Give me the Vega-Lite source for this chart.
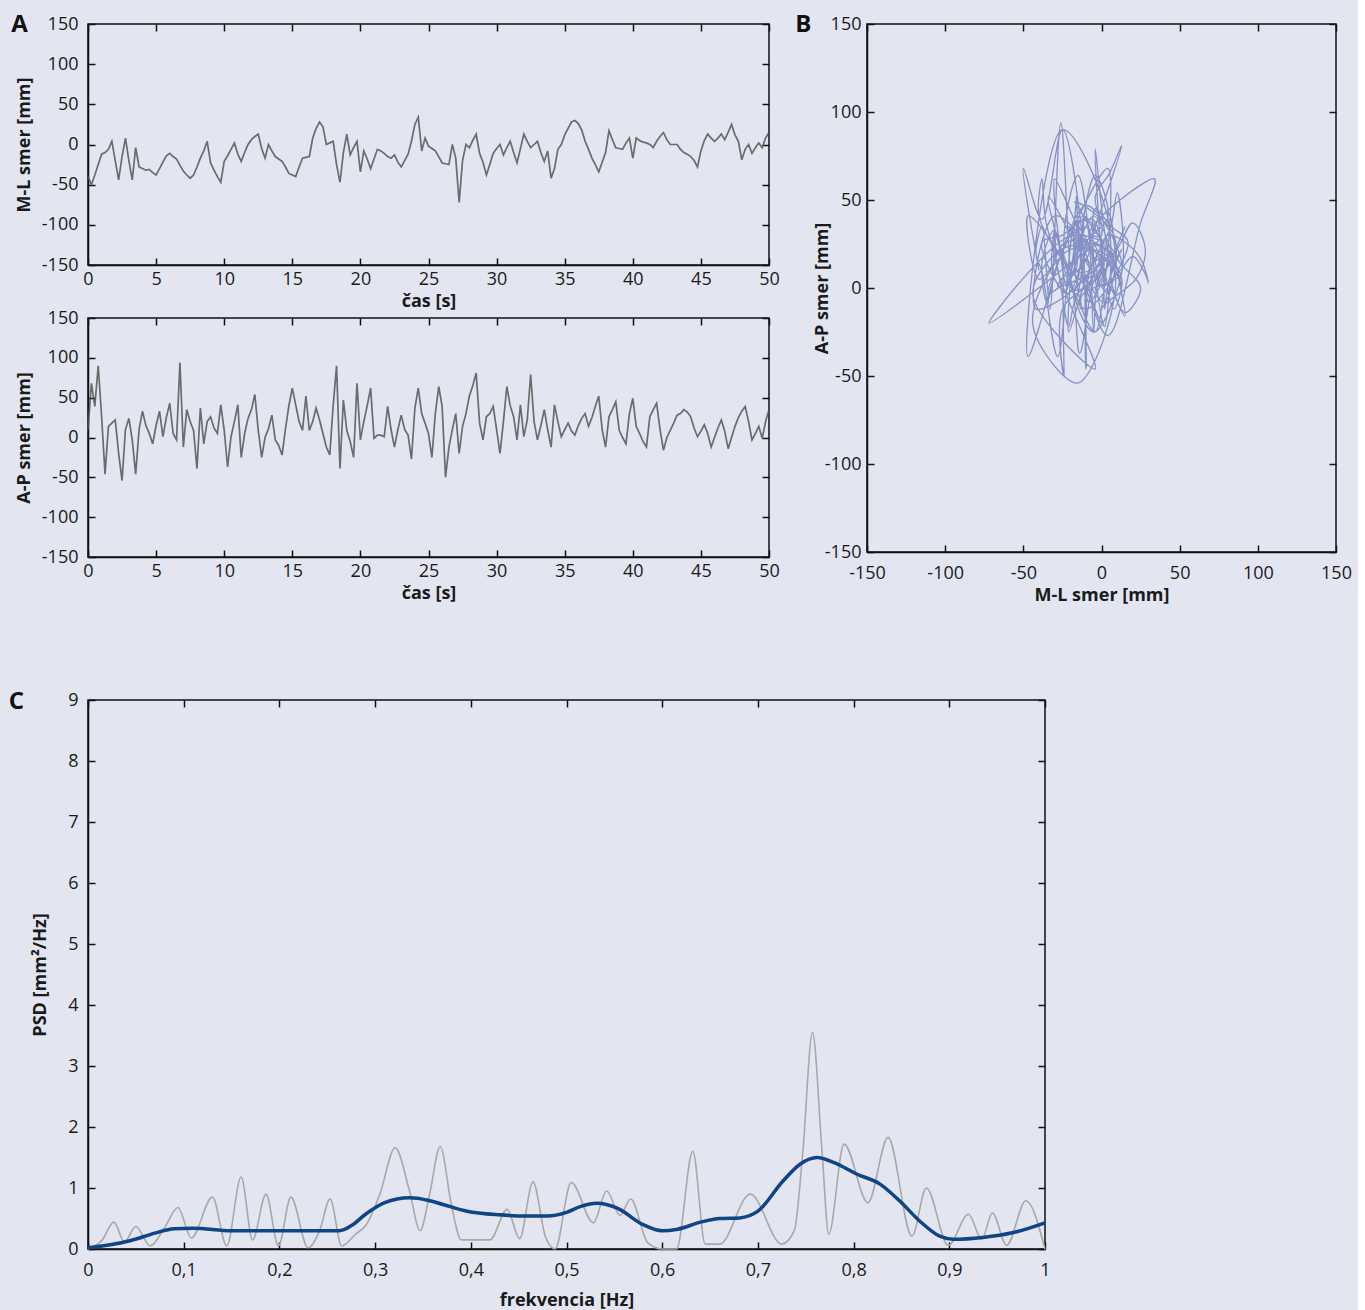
{
  "$schema": "https://vega.github.io/schema/vega-lite/v6.json",
  "background": "#e3e6f1",
  "padding": {"left": 7, "top": 12, "right": 5, "bottom": 0},
  "config": {
    "view": {"stroke": "#111111", "strokeWidth": 1.5},
    "axis": {"labelFont": "Open Sans", "labelFontSize": 18, "labelColor": "#1a1a1a", "titleFont": "Open Sans", "titleFontSize": 18, "titleFontWeight": "bold", "titleColor": "#1a1a1a", "domainColor": "#111111", "domainWidth": 1.5, "tickColor": "#111111", "tickWidth": 1.5, "tickSize": -7, "grid": false, "labelFlush": false, "labelOverlap": false, "labelExpr": "'' + datum.value"},
    "axisX": {"labelPadding": 12},
    "axisY": {"labelPadding": 17},
    "title": {"font": "Open Sans", "fontSize": 24, "fontWeight": "bold", "anchor": "start", "frame": "bounds", "color": "#111111", "baseline": "alphabetic"}
  },
  "datasets": {
    "ts": [
      {"t":0,"ml":-40,"ap":10},{"t":0.25,"ml":-50,"ap":68},{"t":0.5,"ml":-38,"ap":39},{"t":0.75,"ml":-25,"ap":90},{"t":1,"ml":-12,"ap":26},{"t":1.25,"ml":-10,"ap":-46},{"t":1.5,"ml":-6,"ap":14},{"t":1.75,"ml":4,"ap":18},{"t":2,"ml":-20,"ap":22},{"t":2.25,"ml":-44,"ap":-20},{"t":2.5,"ml":-15,"ap":-54},{"t":2.75,"ml":8,"ap":10},{"t":3,"ml":-20,"ap":24},{"t":3.25,"ml":-44,"ap":-3},{"t":3.5,"ml":-4,"ap":-46},{"t":3.75,"ml":-28,"ap":10},{"t":4,"ml":-30,"ap":33},{"t":4.25,"ml":-32,"ap":15},{"t":4.5,"ml":-31,"ap":5},{"t":4.75,"ml":-35,"ap":-8},{"t":5,"ml":-38,"ap":15},{"t":5.25,"ml":-30,"ap":33},{"t":5.5,"ml":-22,"ap":1},{"t":5.75,"ml":-14,"ap":25},{"t":6,"ml":-11,"ap":43},{"t":6.25,"ml":-15,"ap":5},{"t":6.5,"ml":-18,"ap":-3},{"t":6.75,"ml":-26,"ap":94},{"t":7,"ml":-33,"ap":-12},{"t":7.25,"ml":-38,"ap":35},{"t":7.5,"ml":-42,"ap":20},{"t":7.75,"ml":-38,"ap":9},{"t":8,"ml":-28,"ap":-39},{"t":8.25,"ml":-17,"ap":37},{"t":8.5,"ml":-8,"ap":-8},{"t":8.75,"ml":4,"ap":20},{"t":9,"ml":-23,"ap":26},{"t":9.25,"ml":-32,"ap":12},{"t":9.5,"ml":-40,"ap":5},{"t":9.75,"ml":-47,"ap":41},{"t":10,"ml":-21,"ap":9},{"t":10.25,"ml":-14,"ap":-37},{"t":10.5,"ml":-6,"ap":1},{"t":10.75,"ml":2,"ap":20},{"t":11,"ml":-12,"ap":41},{"t":11.25,"ml":-21,"ap":-25},{"t":11.5,"ml":-10,"ap":5},{"t":11.75,"ml":0,"ap":24},{"t":12,"ml":6,"ap":35},{"t":12.25,"ml":10,"ap":54},{"t":12.5,"ml":13,"ap":9},{"t":12.75,"ml":-5,"ap":-25},{"t":13,"ml":-17,"ap":0},{"t":13.25,"ml":0,"ap":11},{"t":13.5,"ml":-8,"ap":28},{"t":13.75,"ml":-15,"ap":-3},{"t":14,"ml":-18,"ap":-10},{"t":14.25,"ml":-21,"ap":-22},{"t":14.5,"ml":-28,"ap":11},{"t":14.75,"ml":-36,"ap":40},{"t":15,"ml":-38,"ap":62},{"t":15.25,"ml":-40,"ap":41},{"t":15.5,"ml":-28,"ap":20},{"t":15.75,"ml":-17,"ap":9},{"t":16,"ml":-16,"ap":52},{"t":16.25,"ml":-15,"ap":9},{"t":16.5,"ml":8,"ap":20},{"t":16.75,"ml":20,"ap":37},{"t":17,"ml":28,"ap":22},{"t":17.25,"ml":22,"ap":5},{"t":17.5,"ml":0,"ap":-12},{"t":17.75,"ml":2,"ap":-22},{"t":18,"ml":4,"ap":40},{"t":18.25,"ml":-25,"ap":90},{"t":18.5,"ml":-47,"ap":-39},{"t":18.75,"ml":-10,"ap":47},{"t":19,"ml":13,"ap":9},{"t":19.25,"ml":-13,"ap":-5},{"t":19.5,"ml":-4,"ap":-25},{"t":19.75,"ml":4,"ap":68},{"t":20,"ml":-34,"ap":-3},{"t":20.25,"ml":-8,"ap":20},{"t":20.5,"ml":-18,"ap":40},{"t":20.75,"ml":-30,"ap":62},{"t":21,"ml":-18,"ap":-1},{"t":21.25,"ml":-6,"ap":3},{"t":21.5,"ml":-8,"ap":3},{"t":21.75,"ml":-11,"ap":1},{"t":22,"ml":-15,"ap":39},{"t":22.25,"ml":-17,"ap":10},{"t":22.5,"ml":-13,"ap":-12},{"t":22.75,"ml":-22,"ap":10},{"t":23,"ml":-28,"ap":28},{"t":23.25,"ml":-20,"ap":10},{"t":23.5,"ml":-12,"ap":3},{"t":23.75,"ml":4,"ap":-27},{"t":24,"ml":25,"ap":37},{"t":24.25,"ml":34,"ap":62},{"t":24.5,"ml":-8,"ap":30},{"t":24.75,"ml":8,"ap":18},{"t":25,"ml":-2,"ap":5},{"t":25.25,"ml":-5,"ap":-25},{"t":25.5,"ml":-8,"ap":30},{"t":25.75,"ml":-15,"ap":64},{"t":26,"ml":-23,"ap":39},{"t":26.25,"ml":-24,"ap":-50},{"t":26.5,"ml":-25,"ap":-12},{"t":26.75,"ml":0,"ap":10},{"t":27,"ml":-17,"ap":30},{"t":27.25,"ml":-72,"ap":-20},{"t":27.5,"ml":-20,"ap":14},{"t":27.75,"ml":0,"ap":30},{"t":28,"ml":-4,"ap":52},{"t":28.25,"ml":5,"ap":65},{"t":28.5,"ml":13,"ap":81},{"t":28.75,"ml":-11,"ap":18},{"t":29,"ml":-22,"ap":-3},{"t":29.25,"ml":-38,"ap":26},{"t":29.5,"ml":-25,"ap":30},{"t":29.75,"ml":-11,"ap":39},{"t":30,"ml":-5,"ap":10},{"t":30.25,"ml":0,"ap":-20},{"t":30.5,"ml":-13,"ap":20},{"t":30.75,"ml":-4,"ap":64},{"t":31,"ml":4,"ap":40},{"t":31.25,"ml":-10,"ap":26},{"t":31.5,"ml":-23,"ap":-3},{"t":31.75,"ml":-5,"ap":41},{"t":32,"ml":13,"ap":1},{"t":32.25,"ml":4,"ap":22},{"t":32.5,"ml":-4,"ap":79},{"t":32.75,"ml":0,"ap":20},{"t":33,"ml":4,"ap":-3},{"t":33.25,"ml":-10,"ap":15},{"t":33.5,"ml":-21,"ap":35},{"t":33.75,"ml":-8,"ap":10},{"t":34,"ml":-42,"ap":-12},{"t":34.25,"ml":-30,"ap":41},{"t":34.5,"ml":-6,"ap":20},{"t":34.75,"ml":0,"ap":1},{"t":35,"ml":12,"ap":10},{"t":35.25,"ml":20,"ap":18},{"t":35.5,"ml":28,"ap":8},{"t":35.75,"ml":30,"ap":3},{"t":36,"ml":26,"ap":15},{"t":36.25,"ml":18,"ap":24},{"t":36.5,"ml":4,"ap":30},{"t":36.75,"ml":-6,"ap":14},{"t":37,"ml":-17,"ap":25},{"t":37.25,"ml":-25,"ap":39},{"t":37.5,"ml":-34,"ap":52},{"t":37.75,"ml":-22,"ap":10},{"t":38,"ml":-10,"ap":-12},{"t":38.25,"ml":17,"ap":26},{"t":38.5,"ml":6,"ap":35},{"t":38.75,"ml":-4,"ap":45},{"t":39,"ml":-5,"ap":9},{"t":39.25,"ml":-6,"ap":0},{"t":39.5,"ml":2,"ap":-8},{"t":39.75,"ml":8,"ap":30},{"t":40,"ml":-17,"ap":49},{"t":40.25,"ml":8,"ap":14},{"t":40.5,"ml":5,"ap":5},{"t":40.75,"ml":3,"ap":-5},{"t":41,"ml":2,"ap":-12},{"t":41.25,"ml":0,"ap":26},{"t":41.5,"ml":-4,"ap":35},{"t":41.75,"ml":4,"ap":43},{"t":42,"ml":10,"ap":10},{"t":42.25,"ml":15,"ap":-16},{"t":42.5,"ml":6,"ap":0},{"t":42.75,"ml":0,"ap":9},{"t":43,"ml":0,"ap":18},{"t":43.25,"ml":0,"ap":28},{"t":43.5,"ml":-6,"ap":30},{"t":43.75,"ml":-10,"ap":35},{"t":44,"ml":-12,"ap":32},{"t":44.25,"ml":-15,"ap":26},{"t":44.5,"ml":-20,"ap":12},{"t":44.75,"ml":-28,"ap":1},{"t":45,"ml":-8,"ap":8},{"t":45.25,"ml":5,"ap":16},{"t":45.5,"ml":13,"ap":5},{"t":45.75,"ml":8,"ap":-12},{"t":46,"ml":4,"ap":0},{"t":46.25,"ml":8,"ap":12},{"t":46.5,"ml":13,"ap":22},{"t":46.75,"ml":6,"ap":8},{"t":47,"ml":15,"ap":-14},{"t":47.25,"ml":25,"ap":0},{"t":47.5,"ml":12,"ap":14},{"t":47.75,"ml":4,"ap":25},{"t":48,"ml":-19,"ap":33},{"t":48.25,"ml":-6,"ap":39},{"t":48.5,"ml":0,"ap":20},{"t":48.75,"ml":-11,"ap":-3},{"t":49,"ml":-4,"ap":5},{"t":49.25,"ml":2,"ap":14},{"t":49.5,"ml":-4,"ap":-1},{"t":49.75,"ml":8,"ap":20},{"t":50,"ml":15,"ap":35}
    ],
    "raw": [
      {"f":0,"psd":0},{"f":0.015,"psd":0.15},{"f":0.027,"psd":0.44},{"f":0.038,"psd":0.12},{"f":0.05,"psd":0.37},{"f":0.065,"psd":0.05},{"f":0.08,"psd":0.35},{"f":0.094,"psd":0.68},{"f":0.108,"psd":0.18},{"f":0.13,"psd":0.85},{"f":0.145,"psd":0.05},{"f":0.16,"psd":1.18},{"f":0.172,"psd":0.15},{"f":0.186,"psd":0.9},{"f":0.199,"psd":0.05},{"f":0.212,"psd":0.85},{"f":0.23,"psd":0.02},{"f":0.242,"psd":0.3},{"f":0.253,"psd":0.82},{"f":0.265,"psd":0.05},{"f":0.28,"psd":0.25},{"f":0.29,"psd":0.38},{"f":0.305,"psd":0.9},{"f":0.321,"psd":1.66},{"f":0.336,"psd":0.95},{"f":0.347,"psd":0.3},{"f":0.357,"psd":0.9},{"f":0.368,"psd":1.68},{"f":0.38,"psd":0.7},{"f":0.39,"psd":0.15},{"f":0.42,"psd":0.15},{"f":0.438,"psd":0.65},{"f":0.451,"psd":0.17},{"f":0.465,"psd":1.1},{"f":0.478,"psd":0.2},{"f":0.488,"psd":0},{"f":0.505,"psd":1.09},{"f":0.528,"psd":0.43},{"f":0.542,"psd":0.95},{"f":0.556,"psd":0.55},{"f":0.567,"psd":0.82},{"f":0.585,"psd":0.1},{"f":0.6,"psd":0},{"f":0.615,"psd":0},{"f":0.632,"psd":1.6},{"f":0.645,"psd":0.08},{"f":0.66,"psd":0.08},{"f":0.692,"psd":0.9},{"f":0.725,"psd":0.08},{"f":0.738,"psd":0.3},{"f":0.747,"psd":1.6},{"f":0.757,"psd":3.55},{"f":0.767,"psd":1.6},{"f":0.774,"psd":0.24},{"f":0.79,"psd":1.72},{"f":0.815,"psd":0.76},{"f":0.836,"psd":1.83},{"f":0.861,"psd":0.21},{"f":0.876,"psd":1},{"f":0.899,"psd":0.06},{"f":0.92,"psd":0.57},{"f":0.934,"psd":0.16},{"f":0.945,"psd":0.59},{"f":0.96,"psd":0.06},{"f":0.98,"psd":0.79},{"f":1,"psd":0}
    ],
    "fit": [
      {"f":0,"psd":0.02},{"f":0.02,"psd":0.06},{"f":0.045,"psd":0.14},{"f":0.07,"psd":0.26},{"f":0.09,"psd":0.33},{"f":0.11,"psd":0.34},{"f":0.15,"psd":0.3},{"f":0.2,"psd":0.3},{"f":0.22,"psd":0.3},{"f":0.263,"psd":0.3},{"f":0.275,"psd":0.38},{"f":0.29,"psd":0.57},{"f":0.31,"psd":0.76},{"f":0.336,"psd":0.84},{"f":0.355,"psd":0.8},{"f":0.371,"psd":0.73},{"f":0.396,"psd":0.62},{"f":0.43,"psd":0.56},{"f":0.46,"psd":0.54},{"f":0.48,"psd":0.54},{"f":0.5,"psd":0.6},{"f":0.515,"psd":0.7},{"f":0.532,"psd":0.75},{"f":0.553,"psd":0.67},{"f":0.58,"psd":0.4},{"f":0.6,"psd":0.3},{"f":0.615,"psd":0.32},{"f":0.64,"psd":0.44},{"f":0.66,"psd":0.5},{"f":0.681,"psd":0.51},{"f":0.7,"psd":0.62},{"f":0.726,"psd":1.11},{"f":0.744,"psd":1.39},{"f":0.762,"psd":1.5},{"f":0.779,"psd":1.42},{"f":0.803,"psd":1.23},{"f":0.828,"psd":1.06},{"f":0.848,"psd":0.79},{"f":0.869,"psd":0.46},{"f":0.89,"psd":0.21},{"f":0.904,"psd":0.16},{"f":0.935,"psd":0.19},{"f":0.967,"psd":0.27},{"f":1,"psd":0.43}
    ]
  },
  "vconcat": [
    {
      "hconcat": [
        {
          "vconcat": [
            {
              "width": 681, "height": 241,
              "title": {"text": "A", "offset": -22, "dx": -4},
              "data": {"name": "ts"},
              "layer": [
                {"mark": {"type": "line", "color": "#555555", "strokeWidth": 1.7, "opacity": 0.85},
                 "encoding": {
                   "x": {"field": "t", "type": "quantitative", "scale": {"domain": [0, 50], "nice": false}, "axis": {"values": [0,5,10,15,20,25,30,35,40,45,50], "title": "čas [s]", "titlePadding": 4}},
                   "y": {"field": "ml", "type": "quantitative", "scale": {"domain": [-150, 150], "nice": false}, "axis": {"values": [-150,-100,-50,0,50,100,150], "title": "M-L smer [mm]", "titlePadding": 8}}
                 }},
                {"mark": {"type": "point", "opacity": 0},
                 "encoding": {
                   "x": {"field": "t", "type": "quantitative", "scale": {"domain": [0, 50], "nice": false}, "axis": {"orient": "top", "values": [0,5,10,15,20,25,30,35,40,45,50], "labels": false, "domain": false, "title": null}},
                   "y": {"field": "ml", "type": "quantitative", "scale": {"domain": [-150, 150], "nice": false}, "axis": {"orient": "right", "values": [-150,-100,-50,0,50,100,150], "labels": false, "domain": false, "title": null}}
                 }}
              ],
              "resolve": {"axis": {"x": "independent", "y": "independent"}}
            },
            {
              "width": 681, "height": 239,
              "data": {"name": "ts"},
              "layer": [
                {"mark": {"type": "line", "color": "#555555", "strokeWidth": 1.7, "opacity": 0.85},
                 "encoding": {
                   "x": {"field": "t", "type": "quantitative", "scale": {"domain": [0, 50], "nice": false}, "axis": {"values": [0,5,10,15,20,25,30,35,40,45,50], "title": "čas [s]", "titlePadding": 4}},
                   "y": {"field": "ap", "type": "quantitative", "scale": {"domain": [-150, 150], "nice": false}, "axis": {"values": [-150,-100,-50,0,50,100,150], "title": "A-P smer [mm]", "titlePadding": 8}}
                 }},
                {"mark": {"type": "point", "opacity": 0},
                 "encoding": {
                   "x": {"field": "t", "type": "quantitative", "scale": {"domain": [0, 50], "nice": false}, "axis": {"orient": "top", "values": [0,5,10,15,20,25,30,35,40,45,50], "labels": false, "domain": false, "title": null}},
                   "y": {"field": "ap", "type": "quantitative", "scale": {"domain": [-150, 150], "nice": false}, "axis": {"orient": "right", "values": [-150,-100,-50,0,50,100,150], "labels": false, "domain": false, "title": null}}
                 }}
              ],
              "resolve": {"axis": {"x": "independent", "y": "independent"}}
            }
          ],
          "spacing": -3
        },
        {
          "width": 469, "height": 528,
          "title": {"text": "B", "offset": -22, "dx": -18},
          "data": {"name": "ts"},
          "layer": [
            {"mark": {"type": "line", "color": "#5264ac", "strokeWidth": 1.3, "opacity": 0.65, "interpolate": "catmull-rom"},
             "encoding": {
               "x": {"field": "ml", "type": "quantitative", "scale": {"domain": [-150, 150], "nice": false}, "axis": {"values": [-150,-100,-50,0,50,100,150], "title": "M-L smer [mm]", "labelPadding": 19, "titlePadding": 4}},
               "y": {"field": "ap", "type": "quantitative", "scale": {"domain": [-150, 150], "nice": false}, "axis": {"values": [-150,-100,-50,0,50,100,150], "title": "A-P smer [mm]", "labelPadding": 13, "titlePadding": -7}},
               "order": {"field": "t", "type": "quantitative"}
             }},
            {"mark": {"type": "point", "opacity": 0},
             "encoding": {
               "x": {"field": "ml", "type": "quantitative", "scale": {"domain": [-150, 150], "nice": false}, "axis": {"orient": "top", "values": [-150,-100,-50,0,50,100,150], "labels": false, "domain": false, "title": null}},
               "y": {"field": "ap", "type": "quantitative", "scale": {"domain": [-150, 150], "nice": false}, "axis": {"orient": "right", "values": [-150,-100,-50,0,50,100,150], "labels": false, "domain": false, "title": null}}
             }}
          ],
          "resolve": {"axis": {"x": "independent", "y": "independent"}}
        }
      ],
      "spacing": 13
    },
    {
      "width": 957, "height": 549,
      "title": {"text": "C", "offset": -23, "dx": -23},
      "layer": [
        {"data": {"name": "raw"},
         "mark": {"type": "line", "color": "#a8a8a8", "strokeWidth": 1.6, "interpolate": "monotone"},
         "encoding": {
           "x": {"field": "f", "type": "quantitative", "scale": {"domain": [0, 1], "nice": false}, "axis": {"values": [0,0.1,0.2,0.3,0.4,0.5,0.6,0.7,0.8,0.9,1], "labelExpr": "replace('' + datum.value, '.', ',')", "title": "frekvencia [Hz]", "labelPadding": 19, "titlePadding": 12}},
           "y": {"field": "psd", "type": "quantitative", "scale": {"domain": [0, 9], "nice": false}, "axis": {"values": [0,1,2,3,4,5,6,7,8,9], "title": "PSD [mm²/Hz]", "titlePadding": 18}}
         }},
        {"data": {"name": "fit"},
         "mark": {"type": "line", "color": "#0d4585", "strokeWidth": 3.5, "interpolate": "monotone"},
         "encoding": {
           "x": {"field": "f", "type": "quantitative", "scale": {"domain": [0, 1], "nice": false}, "axis": null},
           "y": {"field": "psd", "type": "quantitative", "scale": {"domain": [0, 9], "nice": false}, "axis": null}
         }},
        {"data": {"name": "fit"},
         "mark": {"type": "point", "opacity": 0},
         "encoding": {
           "x": {"field": "f", "type": "quantitative", "scale": {"domain": [0, 1], "nice": false}, "axis": {"orient": "top", "values": [0,0.1,0.2,0.3,0.4,0.5,0.6,0.7,0.8,0.9,1], "labels": false, "domain": false, "title": null}},
           "y": {"field": "psd", "type": "quantitative", "scale": {"domain": [0, 9], "nice": false}, "axis": {"orient": "right", "values": [0,1,2,3,4,5,6,7,8,9], "labels": false, "domain": false, "title": null}}
         }}
      ],
      "resolve": {"axis": {"x": "independent", "y": "independent"}}
    }
  ],
  "spacing": 84
}
